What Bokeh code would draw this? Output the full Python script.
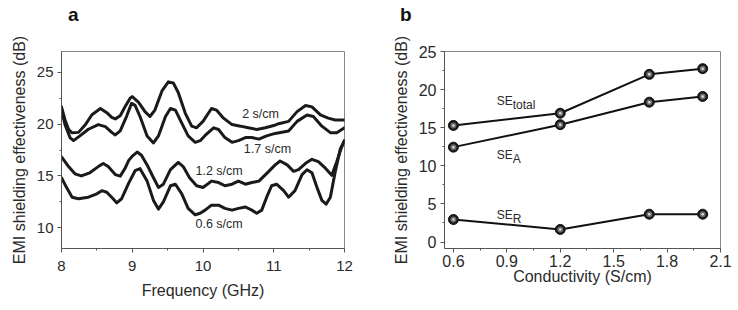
from bokeh.plotting import figure
from bokeh.layouts import row, column
from bokeh.models import Label, FixedTicker, Range1d, Div
from bokeh.embed import file_html
from bokeh.resources import INLINE

# ---------------- panel a data ----------------
f_2 = [8.0, 8.05, 8.10, 8.146, 8.24, 8.34, 8.43, 8.55, 8.64, 8.71, 8.76, 8.83, 8.90, 8.97, 9.0,
       9.09, 9.18, 9.25, 9.32, 9.42, 9.51, 9.58, 9.65, 9.75, 9.84, 9.91, 10.0, 10.12, 10.19, 10.29,
       10.41, 10.53, 10.64, 10.76, 10.88, 11.0, 11.07, 11.21, 11.33, 11.45, 11.54, 11.66, 11.77, 11.87, 12.0]
se_2 = [21.66, 20.4, 19.5, 19.17, 19.2, 19.97, 20.9, 21.5, 21.1, 20.64, 20.5, 20.8, 21.7, 22.5, 22.65,
        22.1, 21.2, 20.73, 21.35, 23.2, 24.07, 23.97, 23.04, 21.04, 19.8, 19.64, 20.26, 21.5, 21.35, 20.57,
        19.95, 19.8, 19.64, 19.48, 19.64, 19.86, 20.04, 20.26, 21.2, 21.8, 21.66, 20.88, 20.57, 20.4, 20.4]

f_17 = [8.0, 8.05, 8.12, 8.17, 8.26, 8.38, 8.52, 8.62, 8.71, 8.76, 8.83, 8.92, 8.99, 9.04, 9.11,
        9.21, 9.30, 9.37, 9.47, 9.54, 9.61, 9.70, 9.79, 9.89, 9.96, 10.03, 10.15, 10.22, 10.31, 10.41,
        10.5, 10.6, 10.69, 10.79, 10.9, 11.02, 11.21, 11.33, 11.47, 11.56, 11.68, 11.8, 11.89, 12.0]
se_17 = [21.35, 19.95, 18.7, 18.4, 18.86, 19.5, 19.95, 19.75, 19.2, 18.95, 19.35, 20.75, 22.0, 21.8, 20.73,
         18.86, 18.18, 18.86, 20.73, 21.5, 21.35, 20.1, 18.86, 18.24, 18.4, 18.9, 19.64, 19.48, 18.7, 18.24,
         18.4, 18.7, 18.7, 18.55, 18.86, 19.1, 19.33, 20.26, 20.88, 20.73, 19.8, 19.17, 19.17, 19.64]

f_12 = [8.0, 8.1, 8.19, 8.28, 8.4, 8.52, 8.59, 8.66, 8.76, 8.83, 8.90, 8.95, 9.0, 9.07, 9.13,
        9.21, 9.30, 9.37, 9.44, 9.54, 9.65, 9.72, 9.81, 9.91, 10.0, 10.12, 10.22, 10.31, 10.41, 10.5,
        10.6, 10.69, 10.79, 10.93, 11.02, 11.09, 11.19, 11.28, 11.35, 11.45, 11.54, 11.63, 11.73, 11.82,
        11.89, 11.95, 12.0]
se_12 = [16.84, 15.9, 15.2, 15.0, 15.3, 15.9, 16.2, 15.9, 15.13, 14.98, 15.75, 16.5, 16.9, 17.3, 17.0,
         16.06, 14.82, 13.89, 14.2, 15.6, 16.3, 15.9, 14.82, 14.05, 13.89, 14.5, 14.36, 14.05, 14.2, 14.5,
         14.2, 14.36, 14.5, 15.44, 16.06, 16.44, 16.06, 15.44, 15.6, 16.22, 16.6, 16.37, 15.75, 15.06,
         16.37, 17.6, 18.4]

f_06 = [8.0, 8.07, 8.15, 8.24, 8.38, 8.5, 8.57, 8.64, 8.73, 8.78, 8.85, 8.95, 9.04, 9.11, 9.21,
        9.30, 9.37, 9.44, 9.54, 9.61, 9.70, 9.79, 9.89, 9.96, 10.03, 10.12, 10.22, 10.31, 10.41, 10.5,
        10.6, 10.69, 10.76, 10.83, 10.9, 10.97, 11.04, 11.14, 11.21, 11.3, 11.4, 11.47, 11.54, 11.61,
        11.68, 11.74, 11.8, 11.87, 11.94, 12.0]
se_06 = [14.82, 13.9, 12.95, 12.8, 12.95, 13.27, 13.58, 13.43, 12.8, 12.4, 12.8, 14.3, 15.5, 15.7, 14.5,
         12.64, 11.8, 12.5, 14.05, 14.2, 13.27, 11.87, 11.25, 11.4, 11.7, 12.18, 12.18, 11.87, 11.7, 11.87,
         12.0, 11.7, 11.4, 11.7, 12.95, 14.05, 14.2, 13.58, 12.95, 13.58, 15.13, 15.6, 15.3, 13.9,
         12.64, 12.27, 12.95, 15.44, 17.6, 18.4]

curve_labels = ["2 s/cm", "1.7 s/cm", "1.2 s/cm", "0.6 s/cm"]

# ---------------- panel b data ----------------
conductivity = [0.6, 1.2, 1.7, 2.0]
se_total = [15.3, 16.9, 22.0, 22.75]
se_a = [12.45, 15.4, 18.35, 19.1]
se_r = [2.95, 1.65, 3.65, 3.65]
b_x_ticks = [0.6, 0.9, 1.2, 1.5, 1.8, 2.1]
b_x_minor = [0.75, 1.05, 1.35, 1.65, 1.95]

panel_letters = ["a", "b"]

FONT = "Liberation Sans"
TXT = "#2a2a2a"
AXC = "#555555"
HEAD = 28  # height of the strip holding the panel letters


def style(p, tick_size):
    for ax in (p.xaxis[0], p.yaxis[0]):
        ax.axis_line_color = AXC
        ax.axis_line_width = 1
        ax.major_tick_line_color = AXC
        ax.minor_tick_line_color = AXC
        ax.major_tick_in = 0
        ax.major_tick_out = 4
        ax.minor_tick_in = 0
        ax.minor_tick_out = 2
        ax.major_label_text_font = FONT
        ax.major_label_text_font_size = tick_size
        ax.major_label_text_color = TXT
        ax.axis_label_text_font = FONT
        ax.axis_label_text_font_size = "16px"
        ax.axis_label_text_font_style = "normal"
        ax.axis_label_text_color = TXT
    p.xgrid.visible = False
    p.ygrid.visible = False
    p.outline_line_color = "#888888"
    p.outline_line_width = 1
    p.background_fill_color = "white"
    p.border_fill_color = "white"


# ---------------- panel a ----------------
pa = figure(width=370, height=310 - HEAD, output_backend="svg", toolbar_location=None,
            x_range=Range1d(8, 12), y_range=Range1d(8, 27),
            x_axis_label="Frequency (GHz)", y_axis_label="EMI shielding effectiveness (dB)",
            min_border_left=61, min_border_right=26, min_border_top=51 - HEAD, min_border_bottom=55)
pa.xaxis.ticker = FixedTicker(ticks=[8, 9, 10, 11, 12], minor_ticks=[8.5, 9.5, 10.5, 11.5])
pa.yaxis.ticker = FixedTicker(ticks=[10, 15, 20, 25], minor_ticks=[7.5, 12.5, 17.5, 22.5, 27.5])
style(pa, "15px")
pa.xaxis.major_label_standoff = 8
pa.yaxis.major_label_standoff = 4
pa.yaxis.axis_label_standoff = 6
pa.xaxis.axis_label_standoff = 8

for fx, sy in ((f_2, se_2), (f_17, se_17), (f_12, se_12), (f_06, se_06)):
    pa.line(fx, sy, line_color="#1a1a1a", line_width=3, line_join="round", line_cap="round")

for txt, lx, ly in zip(curve_labels, [10.554, 10.577, 9.894, 9.894], [20.94, 17.62, 15.47, 10.41]):
    pa.add_layout(Label(x=lx, y=ly, text=txt, text_font=FONT, text_font_size="12.5px",
                        text_color=TXT, text_baseline="middle"))

# ---------------- panel b ----------------
pb = figure(width=368, height=310 - HEAD, output_backend="svg", toolbar_location=None,
            x_range=Range1d(0.55, 2.1), y_range=Range1d(-0.85, 25),
            x_axis_label="Conductivity (S/cm)", y_axis_label="EMI shielding effectiveness (dB)",
            min_border_left=74, min_border_right=18, min_border_top=44 - HEAD, min_border_bottom=62)
pb.xaxis.ticker = FixedTicker(ticks=b_x_ticks, minor_ticks=b_x_minor)
pb.yaxis.ticker = FixedTicker(ticks=[0, 5, 10, 15, 20, 25], minor_ticks=[2.5, 7.5, 12.5, 17.5, 22.5])
style(pb, "16px")
pb.xaxis.major_label_standoff = 2
pb.yaxis.major_label_standoff = 4
pb.yaxis.axis_label_standoff = 6
pb.xaxis.axis_label_standoff = -2

for sy in (se_total, se_a, se_r):
    pb.line(conductivity, sy, line_color="#111111", line_width=2)
    pb.scatter(conductivity, sy, size=10, fill_color="#1a1a1a", line_color="#111111")
    pb.scatter(conductivity, sy, size=6, fill_color="#6a6a6a", line_color=None)
    pb.scatter(conductivity, sy, size=2.5, fill_color="#dddddd", line_color=None)

for sub, ly in (("total", 18.55), ("A", 11.38), ("R", 3.59)):
    pb.add_layout(Label(x=0.843, y=ly, text="SE", text_font=FONT, text_font_size="12px",
                        text_color=TXT, text_baseline="alphabetic"))
    pb.add_layout(Label(x=0.843, y=ly, text=sub, text_font=FONT, text_font_size="12px",
                        text_color=TXT, text_baseline="alphabetic", x_offset=16, y_offset=-4))

# ---------------- panel letters strip ----------------
letter_style = ("position:absolute;top:5px;margin:0;line-height:19px;font-family:'Liberation Sans';"
                "font-weight:bold;font-size:19px;color:#111111;")
html = ('<div style="position:relative;width:738px;height:%dpx;">' % HEAD
        + '<span style="%sleft:68px;">%s</span>' % (letter_style, panel_letters[0])
        + '<span style="%sleft:400px;">%s</span>' % (letter_style, panel_letters[1])
        + '</div>')
head = Div(text=html, width=738, height=HEAD, margin=0)

layout = column(head, row(pa, pb, spacing=0), spacing=0)
open("out.html", "w").write(file_html(layout, INLINE))
